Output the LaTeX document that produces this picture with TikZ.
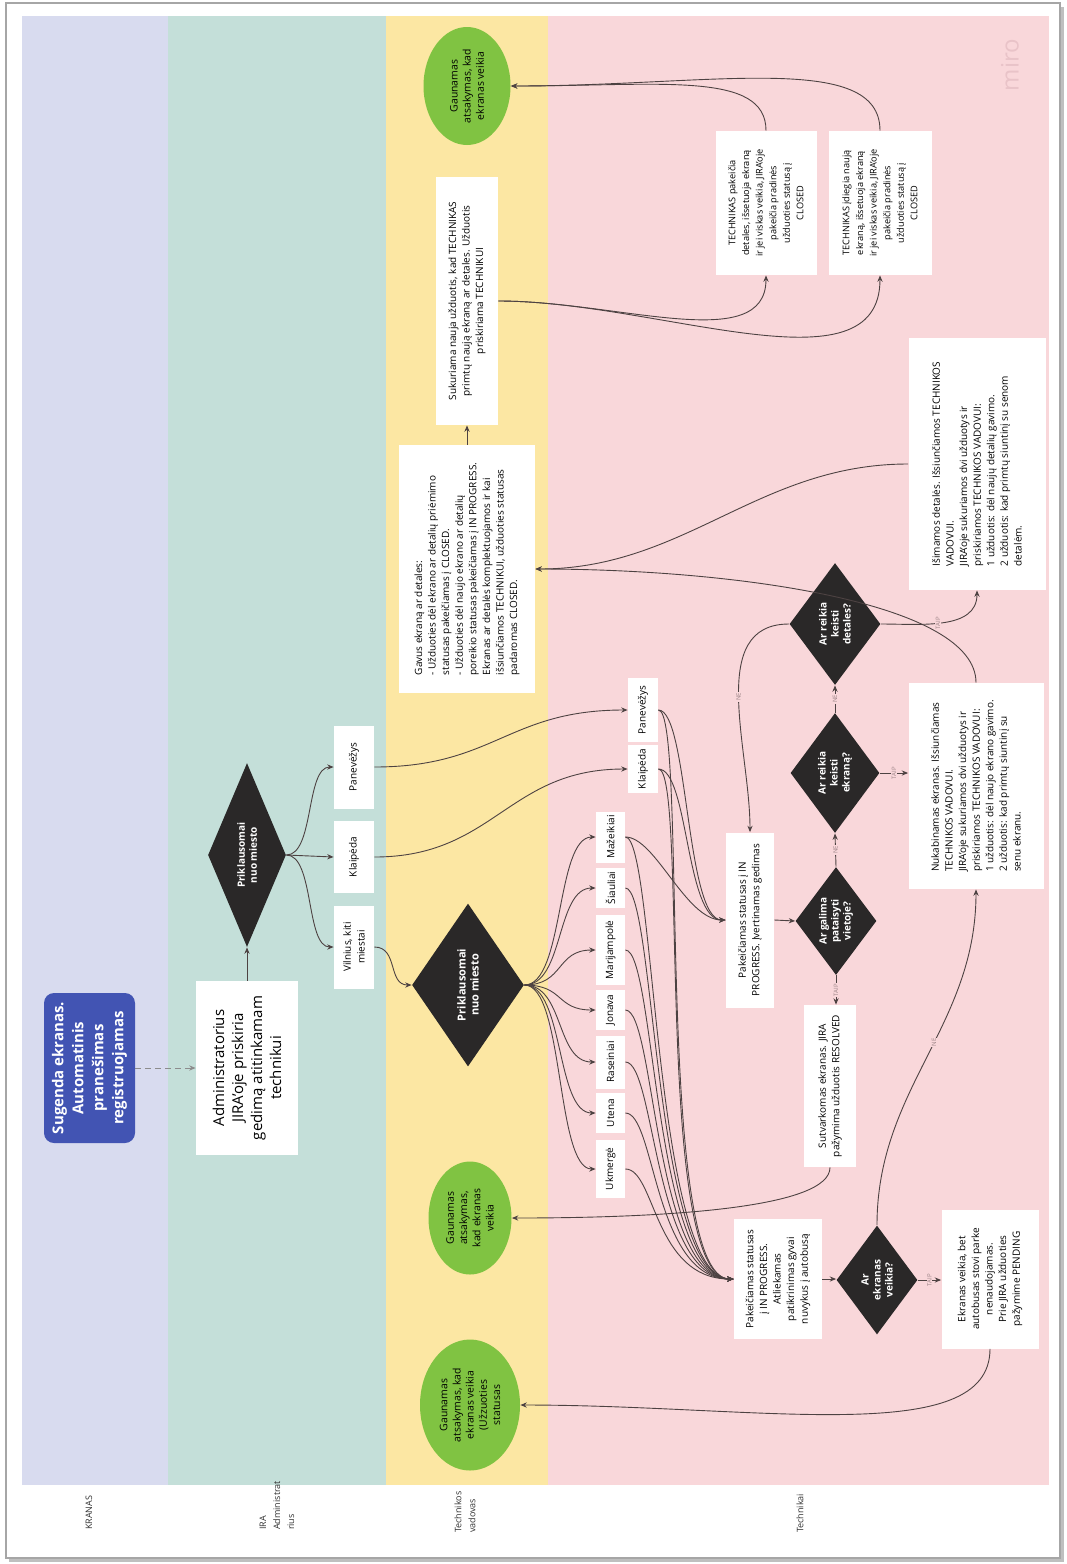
\documentclass[tikz,border=0pt]{standalone}
\usepackage{fontspec}
\setmainfont{Open Sans}
\usetikzlibrary{shapes.geometric,arrows.meta,calc}
\definecolor{lavC}{HTML}{D8DBEF}
\definecolor{tealC}{HTML}{C4DFD9}
\definecolor{yelC}{HTML}{FCE7A3}
\definecolor{pinkC}{HTML}{F9D7DA}
\definecolor{greenC}{HTML}{80C342}
\definecolor{diaC}{HTML}{2A2828}
\definecolor{blueC}{HTML}{4254B3}
\definecolor{lineC}{HTML}{4D4242}
\definecolor{lblC}{HTML}{9C8487}
\definecolor{miroC}{HTML}{E9C3C8}
\newcommand{\myfs}[2]{\fontsize{#1}{#2}\selectfont}
\begin{document}
\begin{tikzpicture}[x=0.5pt,y=0.5pt,
  conn/.style={draw=lineC, line width=0.45pt, -{Stealth[length=3.2pt,width=2.6pt]}},
  wbox/.style={rectangle, fill=white, rotate=90, align=center, inner sep=1pt, font=\myfs{5}{6.8}},
  lbox/.style={wbox, align=left},
  dia/.style={diamond, fill=diaC, rotate=90, aspect=1.5, inner sep=0pt, text=white, align=center, font=\bfseries\myfs{5}{6}},
  endo/.style={ellipse, fill=greenC, rotate=90, inner sep=0pt, align=center, font=\myfs{5.2}{6.6}},
  lbl/.style={rotate=90, font=\myfs{3}{3}, text=lblC, fill=pinkC, inner sep=0.4pt},
  lanelab/.style={rotate=90, anchor=west, align=left, font=\myfs{4.5}{7}, text=black!80},
]
\useasboundingbox (0,0) rectangle (1066,-1564);
\fill[white] (0,0) rectangle (1066,-1564);
% frame with shadow
\fill[black!25] (9,-7) rectangle (1064,-1562);
\fill[white] (6,-3) rectangle (1060,-1558);
\draw[black!35, line width=0.6pt] (6,-3) rectangle (1060,-1558);
% lanes
\fill[lavC] (22,-16) rectangle (168,-1485);
\fill[tealC] (168,-16) rectangle (386,-1485);
\fill[yelC] (386,-16) rectangle (548,-1485);
\fill[pinkC] (548,-16) rectangle (1049,-1485);
% lane labels
\node[lanelab] (labA) at (89,-1537) {KRANAS};
\node[lanelab] (labB) at (277,-1537) {IRA\\Administrat\\rius};
\node[lanelab] (labC) at (465,-1540) {Technikos\\vadovas};
\node[lanelab] (labD) at (800,-1540) {Technikai};
% watermark
\node[rotate=90, text=miroC, font=\myfs{12}{12}] (miro) at (1010,-65) {miro};

% lane 1
\node[wbox, fill=blueC, rounded corners=5pt, text=white, font=\bfseries\myfs{7.5}{10}, minimum width=75pt, minimum height=45.5pt] (sug) at (89.5,-1068) {Sugenda ekranas.\\Automatinis\\pranešimas\\registruojamas};
% lane 2
\node[wbox, font=\myfs{7.5}{9.5}, minimum width=87pt, minimum height=51pt] (adm) at (247,-1068) {Administratorius\\JIRA'oje priskiria\\gedimą atitinkamam\\technikui};
\node[dia, minimum width=92pt, minimum height=39pt] (d1) at (247,-855) {Priklausomai\\nuo miesto};
\node[wbox, minimum width=41.5pt, minimum height=20pt] (vil) at (354,-947) {Vilnius, kiti\\miestai};
\node[wbox, minimum width=36pt, minimum height=20pt] (kla1) at (354,-857) {Klaipėda};
\node[wbox, minimum width=41.5pt, minimum height=20pt] (pan1) at (354,-767) {Panevėžys};
% lane 3
\node[dia, minimum width=81.5pt, minimum height=56pt, font=\bfseries\myfs{5.5}{6.5}] (d2) at (468,-985) {Priklausomai\\nuo miesto};
\node[endo, minimum width=59pt, minimum height=43.5pt] (e1) at (467,-86) {Gaunamas\\atsakymas, kad\\ekranas veikia};
\node[endo, minimum width=56.5pt, minimum height=41.5pt] (e2) at (470,-1218) {Gaunamas\\atsakymas,\\kad ekranas\\veikia};
\node[endo, minimum width=65.5pt, minimum height=50pt] (e3) at (470,-1405) {Gaunamas\\atsakymas, kad\\ekranas veikia\\(Užzuoties\\statusas};
\node[wbox, minimum width=124pt, minimum height=31pt] (b3) at (467,-301) {Sukuriama nauja užduotis, kad TECHNIKAS\\primtų naują ekraną ar detales. Užduotis\\priskiriama TECHNIKUI};
\node[lbox, minimum width=124pt, minimum height=68pt] (b4) at (467,-569) {Gavus ekraną ar detales:\\- Užduoties dėl ekrano ar detalių priėmimo\\statusas pakeičiamas į CLOSED.\\- Užduoties dėl naujo ekrano ar detalių\\poreikio statusas pakeičiamas į IN PROGRESS.\\Ekranas ar detalės komplektuojamos ir kai\\išsiunčiamos TECHNIKUI, užduoties statusas\\padaromas CLOSED.};
% lane 4: cities
\node[wbox, minimum width=25.5pt, minimum height=14.5pt] (maz) at (610.5,-837) {Mažeikiai};
\node[wbox, minimum width=20pt, minimum height=14.5pt] (sia) at (610.5,-888) {Šiauliai};
\node[wbox, minimum width=35pt, minimum height=14.5pt] (mar) at (610.5,-950) {Marijampolė};
\node[wbox, minimum width=20pt, minimum height=14.5pt] (jon) at (610.5,-1010) {Jonava};
\node[wbox, minimum width=26.5pt, minimum height=14.5pt] (ras) at (610.5,-1062) {Raseiniai};
\node[wbox, minimum width=20pt, minimum height=14.5pt] (ute) at (610.5,-1113) {Utena};
\node[wbox, minimum width=29pt, minimum height=14.5pt] (ukm) at (610.5,-1169) {Ukmergė};
\node[wbox, minimum width=24pt, minimum height=15pt] (kla2) at (643,-769) {Klaipėda};
\node[wbox, minimum width=32pt, minimum height=15pt] (pan2) at (643,-710) {Panevėžys};
% lane 4: process
\node[wbox, minimum width=87.5pt, minimum height=24pt] (b5) at (750,-920) {Pakeičiamas statusas į IN\\PROGRESS. Įvertinamas gedimas};
\node[dia, minimum width=54pt, minimum height=40.5pt] (d3) at (836,-921) {Ar galima\\pataisyti\\vietoje?};
\node[dia, minimum width=60pt, minimum height=44.5pt] (d4) at (835,-773) {Ar reikia\\keisti\\ekraną?};
\node[dia, minimum width=61pt, minimum height=45.5pt] (d5) at (835,-624) {Ar reikia\\keisti\\detales?};
\node[wbox, minimum width=81pt, minimum height=26pt] (b7) at (830,-1086) {Sutvarkomas ekranas. JIRA\\pažymima užduotis RESOLVED};
\node[wbox, minimum width=60pt, minimum height=44pt] (b6) at (778,-1279) {Pakeičiamas statusas\\į IN PROGRESS.\\Atliekamas\\patikrinimas gyvai\\nuvykus į autobusą};
\node[dia, minimum width=54.5pt, minimum height=40.5pt] (d6) at (877,-1280) {Ar\\ekranas\\veikia?};
\node[wbox, minimum width=69.5pt, minimum height=48.5pt] (b12) at (990,-1279) {Ekranas veikia, bet\\autobusas stovi parke\\nenaudojamas.\\Prie JIRA užduoties\\pažymime PENDING};
\node[lbox, minimum width=103pt, minimum height=67.5pt] (b8) at (976,-786) {Nukabinamas ekranas. Išsiunčiamas\\TECHNIKOS VADOVUI.\\JIRA'oje sukuriamos dvi užduotys ir\\priskiriamos TECHNIKOS VADOVUI:\\1 užduotis: dėl naujo ekrano gavimo.\\2 užduotis: kad primtų siuntinį su\\senu ekranu.};
\node[lbox, minimum width=126pt, minimum height=68.5pt] (b9) at (977,-464) {Išimamos detalės. Išsiunčiamos TECHNIKOS\\VADOVUI.\\JIRA'oje sukuriamos dvi užduotys ir\\priskiriamos TECHNIKOS VADOVUI:\\1 užduotis: dėl naujų detalių gavimo.\\2 užduotis: kad primtų siuntinį su senom\\detalėm.};
\node[wbox, font=\myfs{4.6}{6.8}, minimum width=72pt, minimum height=50.5pt] (b10) at (766,-203) {TECHNIKAS pakeičia\\detales, išsetuoja ekraną\\ir jei viskas veikia, JIRA'oje\\pakeičia pradinės\\užduoties statusą į\\CLOSED};
\node[wbox, font=\myfs{4.6}{6.8}, minimum width=72pt, minimum height=51.5pt] (b11) at (880,-203) {TECHNIKAS įdiegia naują\\ekraną, išsetuoja ekraną\\ir jei viskas veikia, JIRA'oje\\pakeičia pradinės\\užduoties statusą į\\CLOSED};

% connectors
\draw[conn, densely dashed, draw=black!45] (sug.south) -- (adm.north);
\draw[conn] (adm.east) -- (d1.west);
\draw[conn] (d1.south) to[out=0,in=180,distance=14pt] (vil.north);
\draw[conn] (d1.south) -- (kla1.north);
\draw[conn] (d1.south) to[out=0,in=180,distance=14pt] (pan1.north);
\draw[conn] (vil.south) to[out=0,in=180,distance=12pt] (d2.north);
\draw[conn] (kla1.south) to[out=0,in=180,distance=60pt] (kla2.north);
\draw[conn] (pan1.south) to[out=0,in=180,distance=60pt] (pan2.north);
\foreach \cty in {maz,sia,mar,jon,ras,ute,ukm}
  \draw[conn] (d2.south) to[out=0,in=180,distance=20pt] (\cty.north);
\foreach \cty in {maz,sia,mar,jon,ras,ute,ukm,kla2,pan2}
  \draw[conn] (\cty.south) to[out=0,in=180,out distance=15pt,in distance=40pt] (b6.north);
\foreach \cty in {maz,kla2,pan2}
  \draw[conn] (\cty.south) to[out=0,in=180,out distance=15pt,in distance=20pt] (b5.north);
\draw[conn] (b5.south) -- (d3.north);
\draw[conn] (d3.east) -- node[lbl]{NE} (d4.west);
\draw[conn] (d4.east) -- node[lbl]{NE} (d5.west);
\draw[conn] (d3.west) -- node[lbl]{TAIP} (d3.west |- b7.east);
\draw[conn] (d4.south) -- node[lbl]{TAIP} (d4.south -| b8.north);
\draw[conn] (d5.south) to[out=0,in=-90] node[lbl,pos=0.45]{TAIP} (b9.west);
\draw[conn] (d5.north) to[out=180,in=90] node[lbl]{NE} (b5.east);
\draw[conn] (b7.west) to[out=-90,in=0,out distance=20pt,in distance=80pt] (e2.south);
\draw[conn] (b6.south) -- (b6.south -| d6.north);
\draw[conn] (d6.south) -- node[lbl]{TAIP} (d6.south -| b12.north);
\draw[conn] (d6.east) to[out=90,in=-90] node[lbl,pos=0.55]{NE} (b8.west);
\draw[conn] (b12.west) to[out=-90,in=0,out distance=50pt,in distance=120pt] (e3.south);
\draw[conn] (b9.north) to[out=180,in=0,distance=75pt] (b4.south);
\draw[conn] (b8.east) to[out=90,in=0,out distance=40pt,in distance=100pt] (b4.south);
\draw[conn] (b4.east) -- (b3.west);
\draw[conn] (b3.south) to[out=0,in=-90,out distance=60pt,in distance=40pt] (b10.west);
\draw[conn] (b3.south) to[out=0,in=-90,out distance=80pt,in distance=60pt] (b11.west);
\draw[conn] (b10.east) to[out=90,in=0,out distance=30pt,in distance=75pt] (e1.south);
\draw[conn] (b11.east) to[out=90,in=0,out distance=40pt,in distance=100pt] (e1.south);
\end{tikzpicture}
\end{document}
